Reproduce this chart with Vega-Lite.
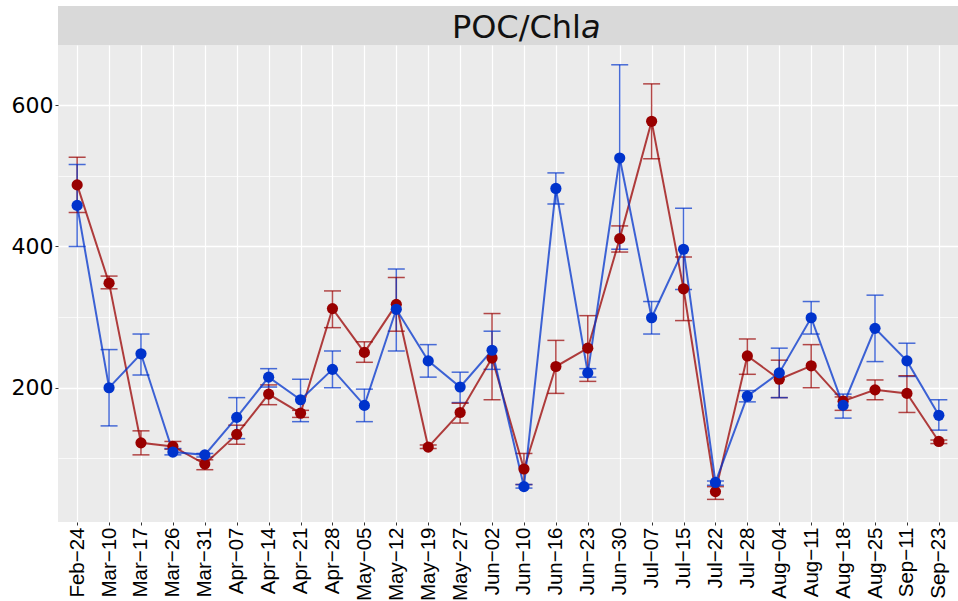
{
  "$schema": "https://vega.github.io/schema/vega-lite/v6.json",
  "autosize": {"type": "pad"},
  "padding": {"left": 11, "top": 6, "right": 0, "bottom": 0},
  "background": "white",
  "spacing": 0,
  "config": {"view": {"stroke": null}},
  "vconcat": [
    {
      "width": 900,
      "height": 39,
      "view": {"fill": "#D9D9D9", "stroke": null},
      "data": {"values": [{"main": "POC/Chl", "ital": "a"}]},
      "layer": [
        {
          "mark": {"type": "text", "align": "right", "baseline": "alphabetic", "font": "DejaVu Sans", "fontSize": 32, "color": "#111111", "dx": 73, "dy": 12.5},
          "encoding": {"text": {"field": "main"}}
        },
        {
          "mark": {"type": "text", "align": "left", "baseline": "alphabetic", "font": "DejaVu Sans", "fontStyle": "italic", "fontSize": 32, "color": "#111111", "dx": 73, "dy": 12.5},
          "encoding": {"text": {"field": "ital"}}
        }
      ]
    },
    {
      "width": 900,
      "height": 477,
      "view": {"fill": "#EBEBEB", "stroke": null},
      "data": {"values": [
        {"date": "Feb−24", "series": "s1", "mean": 487, "lo": 448, "hi": 526},
        {"date": "Mar−10", "series": "s1", "mean": 348, "lo": 340, "hi": 358},
        {"date": "Mar−17", "series": "s1", "mean": 122, "lo": 105, "hi": 139},
        {"date": "Mar−26", "series": "s1", "mean": 117, "lo": 113, "hi": 124},
        {"date": "Mar−31", "series": "s1", "mean": 92, "lo": 84, "hi": 98},
        {"date": "Apr−07", "series": "s1", "mean": 134, "lo": 120, "hi": 147},
        {"date": "Apr−14", "series": "s1", "mean": 191, "lo": 176, "hi": 204},
        {"date": "Apr−21", "series": "s1", "mean": 164, "lo": 158, "hi": 168},
        {"date": "Apr−28", "series": "s1", "mean": 312, "lo": 285, "hi": 337},
        {"date": "May−05", "series": "s1", "mean": 250, "lo": 236, "hi": 265},
        {"date": "May−12", "series": "s1", "mean": 318, "lo": 280, "hi": 356},
        {"date": "May−19", "series": "s1", "mean": 116, "lo": 114, "hi": 119},
        {"date": "May−27", "series": "s1", "mean": 165, "lo": 150, "hi": 178},
        {"date": "Jun−02", "series": "s1", "mean": 242, "lo": 183, "hi": 305},
        {"date": "Jun−10", "series": "s1", "mean": 85, "lo": 63, "hi": 107},
        {"date": "Jun−16", "series": "s1", "mean": 230, "lo": 192, "hi": 267},
        {"date": "Jun−23", "series": "s1", "mean": 256, "lo": 209, "hi": 302},
        {"date": "Jun−30", "series": "s1", "mean": 411, "lo": 392, "hi": 429},
        {"date": "Jul−07", "series": "s1", "mean": 577, "lo": 524, "hi": 630},
        {"date": "Jul−15", "series": "s1", "mean": 340, "lo": 295, "hi": 385},
        {"date": "Jul−22", "series": "s1", "mean": 53, "lo": 42, "hi": 60},
        {"date": "Jul−28", "series": "s1", "mean": 245, "lo": 219, "hi": 269},
        {"date": "Aug−04", "series": "s1", "mean": 212, "lo": 186, "hi": 239},
        {"date": "Aug−11", "series": "s1", "mean": 231, "lo": 200, "hi": 261},
        {"date": "Aug−18", "series": "s1", "mean": 181, "lo": 168, "hi": 187},
        {"date": "Aug−25", "series": "s1", "mean": 197, "lo": 183, "hi": 211},
        {"date": "Sep−11", "series": "s1", "mean": 192, "lo": 165, "hi": 217},
        {"date": "Sep−23", "series": "s1", "mean": 124, "lo": 121, "hi": 126},
        {"date": "Feb−24", "series": "s2", "mean": 458, "lo": 400, "hi": 516},
        {"date": "Mar−10", "series": "s2", "mean": 200, "lo": 146, "hi": 254},
        {"date": "Mar−17", "series": "s2", "mean": 248, "lo": 218, "hi": 276},
        {"date": "Mar−26", "series": "s2", "mean": 109, "lo": 105, "hi": 114},
        {"date": "Mar−31", "series": "s2", "mean": 105, "lo": 102, "hi": 107},
        {"date": "Apr−07", "series": "s2", "mean": 158, "lo": 128, "hi": 186},
        {"date": "Apr−14", "series": "s2", "mean": 215, "lo": 201, "hi": 227},
        {"date": "Apr−21", "series": "s2", "mean": 183, "lo": 152, "hi": 212},
        {"date": "Apr−28", "series": "s2", "mean": 226, "lo": 200, "hi": 252},
        {"date": "May−05", "series": "s2", "mean": 175, "lo": 152, "hi": 198},
        {"date": "May−12", "series": "s2", "mean": 311, "lo": 252, "hi": 368},
        {"date": "May−19", "series": "s2", "mean": 238, "lo": 215, "hi": 261},
        {"date": "May−27", "series": "s2", "mean": 201, "lo": 179, "hi": 222},
        {"date": "Jun−02", "series": "s2", "mean": 253, "lo": 226, "hi": 280},
        {"date": "Jun−10", "series": "s2", "mean": 60, "lo": 58, "hi": 63},
        {"date": "Jun−16", "series": "s2", "mean": 482, "lo": 460, "hi": 504},
        {"date": "Jun−23", "series": "s2", "mean": 221, "lo": 215, "hi": 227},
        {"date": "Jun−30", "series": "s2", "mean": 525, "lo": 396, "hi": 657},
        {"date": "Jul−07", "series": "s2", "mean": 299, "lo": 276, "hi": 322},
        {"date": "Jul−15", "series": "s2", "mean": 396, "lo": 339, "hi": 454},
        {"date": "Jul−22", "series": "s2", "mean": 66, "lo": 62, "hi": 68},
        {"date": "Jul−28", "series": "s2", "mean": 188, "lo": 180, "hi": 196},
        {"date": "Aug−04", "series": "s2", "mean": 221, "lo": 186, "hi": 256},
        {"date": "Aug−11", "series": "s2", "mean": 299, "lo": 276, "hi": 322},
        {"date": "Aug−18", "series": "s2", "mean": 175, "lo": 157, "hi": 191},
        {"date": "Aug−25", "series": "s2", "mean": 284, "lo": 237, "hi": 331},
        {"date": "Sep−11", "series": "s2", "mean": 238, "lo": 216, "hi": 263},
        {"date": "Sep−23", "series": "s2", "mean": 161, "lo": 140, "hi": 183}
      ]},
      "encoding": {
        "x": {
          "field": "date", "type": "ordinal", "sort": null,
          "scale": {"type": "point", "padding": 0.6},
          "axis": {"title": null, "labelAngle": -90, "labelFont": "Liberation Sans", "labelFontSize": 20.5, "labelColor": "#000000", "tickColor": "#333333", "tickSize": 3, "tickWidth": 1, "labelPadding": 2, "domain": false, "grid": true, "gridColor": "#FFFFFF", "gridWidth": 1.2}
        },
        "color": {"field": "series", "type": "nominal", "scale": {"domain": ["s1", "s2"], "range": ["#990000", "#0033CC"]}, "legend": null}
      },
      "layer": [
        {
          "mark": {"type": "rule", "strokeWidth": 1.5, "opacity": 0.7},
          "encoding": {
            "y": {"field": "lo", "type": "quantitative", "scale": {"domain": [10, 685], "nice": false, "zero": false},
              "axis": {"title": null, "values": [100, 200, 300, 400, 500, 600], "labelExpr": "datum.value % 200 == 0 ? datum.label : ''", "labelFont": "DejaVu Sans", "labelFontSize": 22, "labelColor": "#000000", "tickColor": "#333333", "tickSize": 3, "tickOpacity": {"condition": {"test": "datum.value % 200 != 0", "value": 0}, "value": 1}, "labelPadding": 2, "domain": false, "grid": true, "gridColor": "#FFFFFF", "gridWidth": {"condition": {"test": "datum.value % 200 != 0", "value": 0.7}, "value": 1.4}}},
            "y2": {"field": "hi"}
          }
        },
        {
          "mark": {"type": "tick", "thickness": 1.5, "size": 17, "opacity": 0.7},
          "encoding": {"y": {"field": "lo", "type": "quantitative", "title": null}}
        },
        {
          "mark": {"type": "tick", "thickness": 1.5, "size": 17, "opacity": 0.7},
          "encoding": {"y": {"field": "hi", "type": "quantitative", "title": null}}
        },
        {
          "mark": {"type": "line", "strokeWidth": 2, "opacity": 0.75},
          "encoding": {"y": {"field": "mean", "type": "quantitative", "title": null}}
        },
        {
          "mark": {"type": "circle", "size": 125, "opacity": 1},
          "encoding": {"y": {"field": "mean", "type": "quantitative", "title": null}}
        }
      ]
    }
  ]
}
